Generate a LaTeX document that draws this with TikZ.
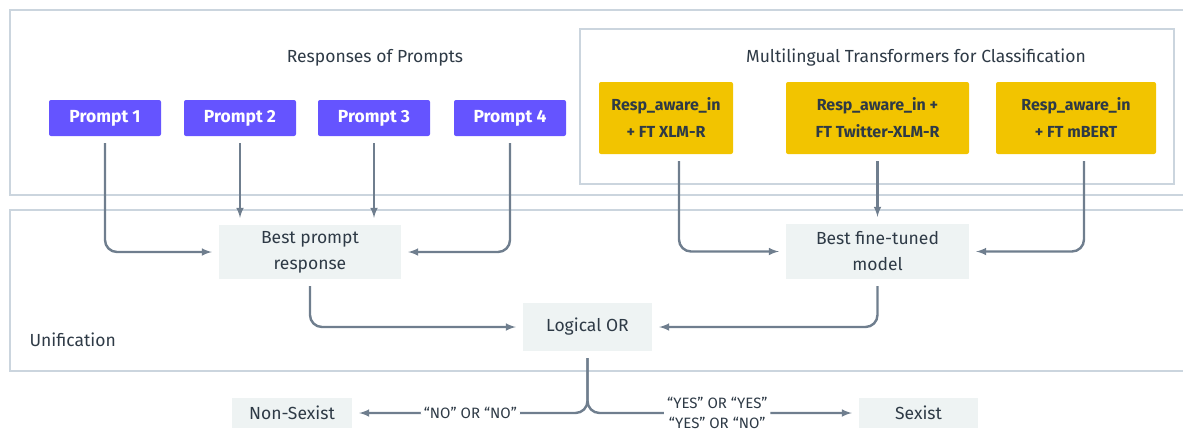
\documentclass[tikz,border=0pt]{standalone}
\usepackage{fontspec}
\setmainfont{Fira Sans}
\usetikzlibrary{positioning}
\definecolor{promptblue}{HTML}{6554FF}
\definecolor{modelyellow}{HTML}{F2C400}
\definecolor{softgray}{HTML}{EEF3F3}
\definecolor{linegray}{HTML}{6F7E8E}
\definecolor{framegray}{HTML}{CBD5DE}
\definecolor{inkgray}{HTML}{2E3A46}
\begin{document}
\begin{tikzpicture}[x=1pt,y=-1pt,>=latex,line width=2.4pt,font=\fontsize{17.5}{26}\selectfont,text=inkgray]
        \tikzstyle{prompt} = [rectangle, fill=promptblue, text=white, font=\fontsize{17.5}{20}\selectfont\bfseries, rounded corners=2pt, minimum width=112pt, minimum height=36pt]
        \tikzstyle{model} = [rectangle, fill=modelyellow, font=\fontsize{16}{27}\selectfont\bfseries, rounded corners=2pt, minimum height=72pt, align=center]
        \tikzstyle{block} = [rectangle, fill=softgray, text centered, align=center]
        \tikzstyle{frame} = [draw=framegray, line width=1.6pt]
        \tikzstyle{arrow} = [->, draw=linegray, rounded corners=12pt, shorten <=6pt, shorten >=6pt]
        \tikzstyle{lbl} = [fill=white, inner sep=3pt, font=\fontsize{15}{19.5}\selectfont, align=center]

        \useasboundingbox (0,0) rectangle (1183,429);

        % Frames
        \draw[frame] (1200,10) -- (10,10) -- (10,195) -- (1200,195);
        \draw[frame] (580,29) rectangle (1174,184);
        \draw[frame] (1200,210) -- (10,210) -- (10,371) -- (1200,371);

        % Titles
        \node (titleprompts) at (375,58) {Responses of Prompts};
        \node (titlemodels) at (916,58) {Multilingual Transformers for Classification};
        \node[anchor=west] (titleunif) at (25,340) {Unification};

        % Prompts
        \node[prompt] (p1) at (105,118) {Prompt 1};
        \node[prompt] (p2) at (240,118) {Prompt 2};
        \node[prompt] (p3) at (374,118) {Prompt 3};
        \node[prompt] (p4) at (510,118) {Prompt 4};

        % Models
        \node[model, minimum width=134pt] (m1) at (666,118) {Resp\_aware\_in\\+ FT XLM-R};
        \node[model, minimum width=183pt] (m2) at (877.5,118) {Resp\_aware\_in +\\FT Twitter-XLM-R};
        \node[model, minimum width=160pt] (m3) at (1076,118) {Resp\_aware\_in\\+ FT mBERT};

        % Unification nodes
        \node[block, minimum width=182pt, minimum height=54pt] (bestprompt) at (310,252) {Best prompt\\response};
        \node[block, minimum width=183pt, minimum height=55pt] (bestmodel) at (877.5,251.5) {Best fine-tuned\\model};
        \node[block, minimum width=129pt, minimum height=48pt] (lor) at (587.5,327) {Logical OR};

        % Outputs
        \node[block, minimum width=120pt, minimum height=30pt] (nonsexist) at (292,413) {Non-Sexist};
        \node[block, minimum width=119pt, minimum height=30pt] (sexist) at (918.5,413) {Sexist};

        % Prompt arrows
        \draw[arrow] (p1) |- (bestprompt.west);
        \draw[arrow] (p2) -- (bestprompt.north -| p2);
        \draw[arrow] (p3) -- (bestprompt.north -| p3);
        \draw[arrow] (p4) |- (bestprompt.east);

        % Model arrows
        \draw[arrow] ([xshift=13pt]m1.south) |- (bestmodel.west);
        \draw[arrow] (m2) -- (bestmodel);
        \draw[arrow] ([xshift=8pt]m3.south) |- (bestmodel.east);

        % Merge into logical OR
        \draw[arrow] (bestprompt) |- (lor.west);
        \draw[arrow] (bestmodel) |- (lor.east);

        % Decision
        \draw[arrow] (lor) |- node[lbl, pos=0.75] {“NO” OR “NO”} (nonsexist.east);
        \draw[arrow] (lor) |- node[lbl, pos=0.74] {“YES” OR “YES”\\“YES” OR “NO”} (sexist.west);
    \end{tikzpicture}
\end{document}
